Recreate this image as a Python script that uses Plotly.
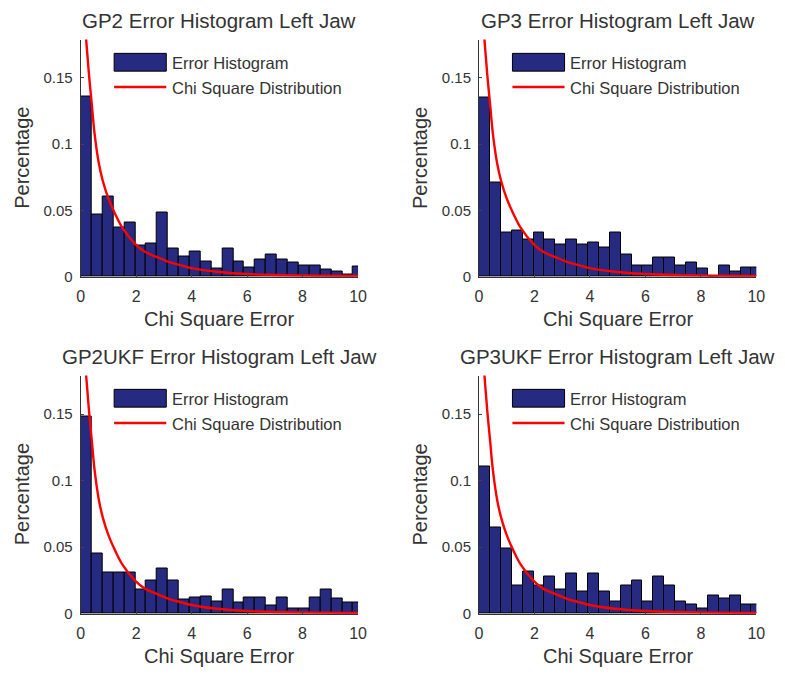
import plotly.graph_objects as go

# ---------------- data ----------------
TITLES = [
    "GP2 Error Histogram Left Jaw",
    "GP3 Error Histogram Left Jaw",
    "GP2UKF Error Histogram Left Jaw",
    "GP3UKF Error Histogram Left Jaw",
]

BIN_WIDTH = 0.393  # histogram bin width (chi-square error units)

gp2_hist = [0.136, 0.0466, 0.0605, 0.0369, 0.0406, 0.0232, 0.0254, 0.0486, 0.0212, 0.0155,
            0.0192, 0.0112, 0.0058, 0.0212, 0.0112, 0.0070, 0.0130, 0.0170, 0.0130, 0.0105,
            0.0087, 0.0087, 0.0055, 0.0037, 0.0015, 0.0075]
gp3_hist = [0.135, 0.071, 0.033, 0.035, 0.028, 0.033, 0.028, 0.024, 0.028, 0.024,
            0.026, 0.022, 0.033, 0.0165, 0.0085, 0.0085, 0.0143, 0.0143, 0.0085, 0.0105,
            0.0065, 0.0, 0.0085, 0.0042, 0.0067, 0.0067]
gp2ukf_hist = [0.148, 0.0455, 0.0313, 0.0313, 0.0313, 0.0182, 0.0249, 0.0336, 0.0249, 0.0107,
               0.0119, 0.0132, 0.0095, 0.0182, 0.0087, 0.0124, 0.0124, 0.0062, 0.0124, 0.0037,
               0.0037, 0.0124, 0.0182, 0.0112, 0.0087, 0.0087]
gp3ukf_hist = [0.1108, 0.0645, 0.0488, 0.0208, 0.032, 0.0208, 0.0278, 0.0183, 0.030, 0.0163,
               0.030, 0.0163, 0.009, 0.0208, 0.025, 0.009, 0.0278, 0.0208, 0.009, 0.007,
               0.004, 0.014, 0.0113, 0.014, 0.007, 0.007]

HISTS = [gp2_hist, gp3_hist, gp2ukf_hist, gp3ukf_hist]

# chi square distribution curve
curve_x = [0.16, 0.2, 0.25, 0.3, 0.4, 0.5, 0.65, 0.8, 1.0, 1.25, 1.5, 1.95, 2.3, 2.78,
           3.2, 3.6, 4.0, 4.9, 6.0, 7.2, 8.5, 10.0]
curve_y = [0.19, 0.178, 0.165, 0.152, 0.13, 0.108, 0.086, 0.072, 0.059, 0.047, 0.037, 0.025,
           0.019, 0.0145, 0.011, 0.0087, 0.0065, 0.0037, 0.002, 0.0012, 0.0008, 0.0005]

x_ticks = [0, 2, 4, 6, 8, 10]
y_ticks = [0, 0.05, 0.1, 0.15]
y_ticklabels = ["0", "0.05", "0.1", "0.15"]
X_LABEL = "Chi Square Error"
Y_LABEL = "Percentage"
LEG_HIST = "Error Histogram"
LEG_CURVE = "Chi Square Distribution"

# ---------------- layout geometry ----------------
W, H = 785, 677
FONT = "Liberation Sans, Arial, sans-serif"
TXT = "#333333"
BAR_COLOR = "#262a80"

# pixel boxes of the four axes: (left, right, top, bottom)
boxes = [(78, 360, 40, 280), (483, 765, 40, 280), (78, 360, 380, 621), (483, 765, 380, 621)]

def px(x):
    return x / W

def py(y):
    return 1 - y / H

fig = go.Figure()
annotations = []
shapes = []

for i, (title, hist, box) in enumerate(zip(TITLES, HISTS, boxes)):
    n = i + 1
    xa = "x" if n == 1 else f"x{n}"
    ya = "y" if n == 1 else f"y{n}"
    centers = [(k + 0.5) * BIN_WIDTH for k in range(len(hist))]
    fig.add_trace(go.Bar(
        x=centers, y=hist, width=BIN_WIDTH, xaxis=xa, yaxis=ya,
        marker=dict(color=BAR_COLOR, line=dict(color="black", width=1)),
        name=LEG_HIST, showlegend=False,
    ))
    fig.add_trace(go.Scatter(
        x=curve_x, y=curve_y, mode="lines", xaxis=xa, yaxis=ya,
        line=dict(color="#ff0000", width=2.4, shape="spline"),
        name=LEG_CURVE, showlegend=False,
    ))
    l, r, t, b = box
    axx = dict(domain=[px(l), px(r)], anchor=ya, range=[0, 10], tickvals=x_ticks,
               ticks="inside", ticklen=3, showline=True, linecolor="#333333", linewidth=1,
               showgrid=False, zeroline=False, tickfont=dict(family=FONT, size=16, color=TXT),
               ticklabelstandoff=5, fixedrange=True)
    axy = dict(domain=[py(b), py(t)], anchor=xa, range=[0, 0.179], tickvals=y_ticks,
               ticktext=y_ticklabels, ticks="inside", ticklen=3, showline=True,
               linecolor="#333333", linewidth=1, showgrid=False, zeroline=False,
               tickfont=dict(family=FONT, size=15, color=TXT), ticklabelstandoff=4,
               fixedrange=True)
    key_x = "xaxis" if n == 1 else f"xaxis{n}"
    key_y = "yaxis" if n == 1 else f"yaxis{n}"
    fig.update_layout({key_x: axx, key_y: axy})

    cx = (l + r) / 2
    # title
    annotations.append(dict(text=title, x=px(cx), y=py(t - 19), xref="paper", yref="paper",
                            showarrow=False, xanchor="center", yanchor="middle",
                            font=dict(family=FONT, size=20.5, color=TXT)))
    # x label
    annotations.append(dict(text=X_LABEL, x=px(cx), y=py(b + 43), xref="paper", yref="paper",
                            showarrow=False, xanchor="center", yanchor="middle",
                            font=dict(family=FONT, size=20, color=TXT)))
    # y label
    annotations.append(dict(text=Y_LABEL, x=px(l - 60), y=py((t + b) / 2), xref="paper",
                            yref="paper", showarrow=False, xanchor="center", yanchor="middle",
                            textangle=-90, font=dict(family=FONT, size=20, color=TXT)))
    # legend (drawn manually)
    lx0, lx1 = l + 34, l + 87
    shapes.append(dict(type="rect", xref="paper", yref="paper",
                       x0=px(lx0), x1=px(lx1), y0=py(t + 32), y1=py(t + 14),
                       fillcolor=BAR_COLOR, line=dict(color="black", width=1)))
    shapes.append(dict(type="line", xref="paper", yref="paper",
                       x0=px(lx0), x1=px(lx1), y0=py(t + 48), y1=py(t + 48),
                       line=dict(color="#ff0000", width=2.4)))
    annotations.append(dict(text=LEG_HIST, x=px(lx1 + 4), y=py(t + 24), xref="paper",
                            yref="paper", showarrow=False, xanchor="left", yanchor="middle",
                            font=dict(family=FONT, size=16.5, color=TXT)))
    annotations.append(dict(text=LEG_CURVE, x=px(lx1 + 4), y=py(t + 49), xref="paper",
                            yref="paper", showarrow=False, xanchor="left", yanchor="middle",
                            font=dict(family=FONT, size=16.5, color=TXT)))

fig.update_layout(
    width=W, height=H, margin=dict(l=0, r=0, t=0, b=0),
    paper_bgcolor="white", plot_bgcolor="white", showlegend=False,
    annotations=annotations, shapes=shapes, bargap=0,
)

fig.write_html("out.html")
